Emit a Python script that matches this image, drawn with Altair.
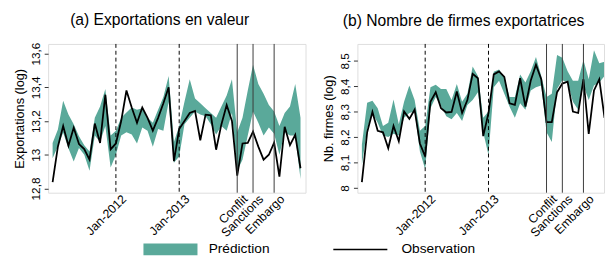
import altair as alt
import pandas as pd

# ---------------- data ----------------
months = list(range(48))  # 0 = Jan 2011

obs_a = [12.838, 13.048, 13.171, 13.053, 13.160, 13.063, 13.034, 12.971, 13.185, 13.070,
         13.356, 13.032, 13.067, 13.200, 13.381, 13.280, 13.190, 13.280, 13.219, 13.143,
         13.219, 13.305, 13.400, 12.962, 13.152, 13.200, 13.248, 13.260, 13.086, 13.238,
         13.234, 13.030, 13.180, 13.295, 13.200, 12.876, 13.067, 13.070, 13.137, 13.048,
         12.971, 13.000, 13.072, 12.870, 13.166, 13.057, 13.118, 12.920]
low_a = [12.980, 13.050, 13.130, 13.038, 12.960, 13.040, 13.000, 12.905, 13.114, 13.076,
         13.171, 12.924, 13.000, 13.114, 13.133, 13.120, 13.067, 13.162, 13.143, 13.048,
         13.152, 13.143, 13.314, 12.952, 12.990, 13.181, 13.219, 13.257, 13.238, 13.229,
         13.181, 13.120, 13.171, 13.143, 13.248, 12.905, 12.971, 13.114, 13.257, 13.190,
         13.114, 13.162, 13.124, 13.000, 13.133, 13.114, 13.114, 12.857]
up_a = [13.070, 13.150, 13.320, 13.238, 13.181, 13.110, 13.057, 13.019, 13.219, 13.286,
        13.390, 13.114, 13.143, 13.220, 13.250, 13.280, 13.267, 13.276, 13.219, 13.190,
        13.267, 13.343, 13.467, 13.076, 13.171, 13.314, 13.448, 13.333, 13.305, 13.276,
        13.248, 13.220, 13.286, 13.352, 13.448, 13.133, 13.219, 13.381, 13.533, 13.419,
        13.362, 13.295, 13.257, 13.171, 13.248, 13.286, 13.419, 13.219]

obs_b = [8.023, 8.219, 8.299, 8.225, 8.219, 8.156, 8.244, 8.184, 8.301, 8.272,
         8.308, 8.175, 8.124, 8.339, 8.377, 8.314, 8.297, 8.299, 8.380, 8.295,
         8.346, 8.449, 8.432, 8.204, 8.295, 8.447, 8.459, 8.437, 8.333, 8.327,
         8.432, 8.320, 8.422, 8.485, 8.428, 8.259, 8.259, 8.377, 8.411, 8.418,
         8.301, 8.295, 8.428, 8.213, 8.384, 8.428, 8.276]
low_b = [8.090, 8.232, 8.295, 8.257, 8.206, 8.200, 8.213, 8.206, 8.276, 8.295,
         8.301, 8.143, 8.073, 8.314, 8.358, 8.323, 8.282, 8.270, 8.295, 8.263,
         8.327, 8.346, 8.377, 8.219, 8.130, 8.396, 8.422, 8.371, 8.320, 8.276,
         8.333, 8.308, 8.384, 8.396, 8.403, 8.219, 8.181, 8.390, 8.424, 8.415,
         8.339, 8.308, 8.403, 8.346, 8.403, 8.415, 8.441]
up_b = [8.170, 8.335, 8.343, 8.314, 8.244, 8.257, 8.348, 8.251, 8.339, 8.403,
        8.346, 8.225, 8.244, 8.396, 8.406, 8.390, 8.390, 8.346, 8.409, 8.339,
        8.371, 8.478, 8.441, 8.276, 8.301, 8.457, 8.466, 8.434, 8.358, 8.358,
        8.447, 8.415, 8.459, 8.516, 8.441, 8.358, 8.371, 8.523, 8.513, 8.459,
        8.422, 8.422, 8.504, 8.428, 8.542, 8.491, 8.497]

tick_pos = [12, 24, 35, 38, 42]
tick_labels = ["Jan-2012", "Jan-2013", "Conflit", "Sanctions", "Embargo"]
dashed_pos = [12, 24]
event_pos = [35, 38, 42]

band_name, band_color = "Prédiction", "#5aa99a"
obs_name, obs_color = "Observation", "#000000"

FONT = "Liberation Sans, Arial, sans-serif"

x_label_expr = " : ".join(
    f"datum.value == {p} ? '{l}'" for p, l in zip(tick_pos, tick_labels)) + " : ''"
y_label_expr = "replace(format(datum.value, '.1~f'), '.', ',')"

# legend symbols: small nominal size, wide custom paths (55 px x 12 px)
fill_legend = alt.Legend(
    title=None, orient="none", direction="horizontal", legendX=118, legendY=203,
    labelFont=FONT, labelFontSize=14, labelColor="#000", labelOffset=32,
    symbolSize=144, symbolType="M-4.6,-1L4.6,-1L4.6,1L-4.6,1Z",
    symbolOpacity=1, symbolStrokeWidth=0)
stroke_legend = alt.Legend(
    title=None, orient="none", direction="horizontal", legendX=312, legendY=203,
    labelFont=FONT, labelFontSize=14, labelColor="#000", labelOffset=35,
    symbolSize=144, symbolType="M-4.6,0L4.6,0", symbolStrokeWidth=1.5)


def panel(obs, low, up, title, ytitle, ydom, yvals, width, xdom):
    n = len(obs)
    df = pd.DataFrame({"t": months[:n], "obs": obs, "lo": low, "hi": up,
                       "s_band": band_name, "s_obs": obs_name})
    xscale = alt.Scale(domain=xdom, nice=False, zero=False)
    xaxis = alt.Axis(values=tick_pos, labelExpr=x_label_expr, labelAngle=315,
                     labelAlign="right", labelBaseline="middle", labelOffset=8,
                     labelPadding=4, ticks=False, domain=False, grid=False,
                     title=None, labelFont=FONT, labelFontSize=12.5,
                     labelColor="#000", labelOverlap=False)
    xenc = alt.X("t:Q", scale=xscale, axis=xaxis)
    yscale = alt.Scale(domain=ydom, nice=False, zero=False)
    yaxis = alt.Axis(values=yvals, labelExpr=y_label_expr, labelAngle=270,
                     labelAlign="center", labelBaseline="bottom", labelPadding=2,
                     labelOverlap=False, labelBound=False, tickSize=4, tickColor="#333",
                     domain=False, grid=False, title=ytitle, titleFont=FONT,
                     titleFontSize=13, titleFontWeight="normal", titleColor="#000",
                     titlePadding=3, labelFont=FONT, labelFontSize=12,
                     labelColor="#000")
    band = alt.Chart(df).mark_area(opacity=1, clip=True).encode(
        x=xenc,
        y=alt.Y("lo:Q", scale=yscale, axis=yaxis),
        y2="hi:Q",
        fill=alt.Fill("s_band:N", scale=alt.Scale(domain=[band_name], range=[band_color]),
                      legend=fill_legend))
    line = alt.Chart(df).mark_line(strokeWidth=1.8, clip=True).encode(
        x=xenc,
        y=alt.Y("obs:Q", scale=yscale, axis=yaxis),
        stroke=alt.Stroke("s_obs:N", scale=alt.Scale(domain=[obs_name], range=[obs_color]),
                          legend=stroke_legend))
    dashed = alt.Chart(pd.DataFrame({"t": dashed_pos})).mark_rule(
        color="#000", strokeWidth=1, strokeDash=[4, 3]).encode(x=xenc)
    events = alt.Chart(pd.DataFrame({"t": event_pos})).mark_rule(
        color="#3a3a3a", strokeWidth=1).encode(x=xenc)
    return alt.layer(band, line, dashed, events).properties(
        width=width, height=152,
        title=alt.TitleParams(title, font=FONT, fontSize=16, fontWeight="normal",
                              color="#000", anchor="middle", frame="bounds", offset=15))


pa = panel(obs_a, low_a, up_a, "(a) Exportations en valeur", "Exportations (log)",
           [12.775, 13.657], [12.8, 13.0, 13.2, 13.4, 13.6], 263, [-0.85, 47.95])
pb = panel(obs_b, low_b, up_b, "(b) Nombre de firmes exportatrices", "Nb. firmes (log)",
           [7.981, 8.567], [8.0, 8.1, 8.2, 8.3, 8.4, 8.5], 252, [-0.85, 45.9])

chart = alt.hconcat(pa, pb, spacing=16).resolve_scale(
    fill="shared", stroke="shared").configure_view(
    stroke="#333", strokeWidth=1).configure(
    background="white", padding={"left": 5, "top": 0, "right": 0, "bottom": 0})

chart.save("out.html", embed_options={"renderer": "svg", "actions": False})
